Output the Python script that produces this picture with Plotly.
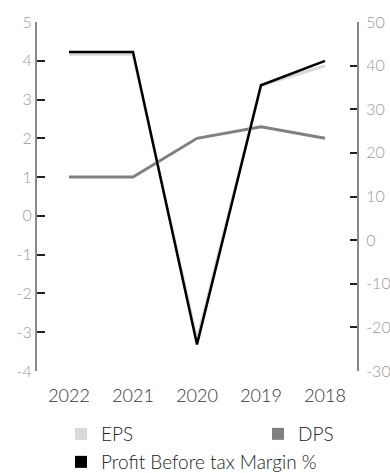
import plotly.graph_objects as go

years = ["2022", "2021", "2020", "2019", "2018"]
eps = [4.17, 4.17, -3.2, 3.37, 3.87]
dps = [1.0, 1.0, 2.0, 2.3, 2.0]
pbt_margin = [43.1, 43.1, -23.9, 35.5, 41.1]

left_ticks = [5, 4, 3, 2, 1, 0, -1, -2, -3, -4]
right_ticks = [50, 40, 30, 20, 10, 0, -10, -20, -30]

c_eps = "#d9d9d9"
c_dps = "#808080"
c_pbt = "#000000"

W, H = 390, 473

fig = go.Figure()

# Data lines (drawn without legend entries)
fig.add_trace(go.Scatter(x=years, y=dps, mode="lines", line=dict(color=c_dps, width=3),
                         showlegend=False, yaxis="y"))
fig.add_trace(go.Scatter(x=years, y=eps, mode="lines", line=dict(color=c_eps, width=3),
                         showlegend=False, yaxis="y"))
fig.add_trace(go.Scatter(x=years, y=pbt_margin, mode="lines", line=dict(color=c_pbt, width=2.5),
                         showlegend=False, yaxis="y2"))

# Square legend swatches, one legend box per entry
legend_entries = [("EPS", c_eps, "legend"), ("DPS", c_dps, "legend2"),
                  ("Profit Before tax Margin %", c_pbt, "legend3")]
for name, col, lg in legend_entries:
    fig.add_trace(go.Scatter(x=[None], y=[None], mode="markers", name=name, legend=lg,
                             marker=dict(symbol="square", size=12, color=col)))

tick_font = dict(family="Lato", size=16, color="#9a9a9a", weight=300)
legend_font = dict(family="Lato", size=19, color="#222", weight=300)


def legend_box(px, py):
    return dict(orientation="h", xref="container", yref="container",
                x=px / W, xanchor="left", y=1 - py / H, yanchor="top",
                font=legend_font, itemwidth=30, bgcolor="rgba(0,0,0,0)")


fig.update_layout(
    width=W, height=H,
    margin=dict(l=37, r=33, t=22, b=102),
    paper_bgcolor="white", plot_bgcolor="white",
    font=dict(family="Lato", color="#555"),
    xaxis=dict(type="category", range=[-0.5, 4.5], showgrid=False, showline=False,
               zeroline=False, ticks="", automargin=False, ticklabelstandoff=12,
               tickfont=dict(family="Lato", size=18, color="#333", weight=300)),
    yaxis=dict(range=[-4, 5], tickvals=left_ticks,
               ticktext=[str(v) for v in left_ticks],
               showgrid=False, zeroline=False, automargin=False,
               showline=True, linecolor="#888", linewidth=2,
               ticks="inside", ticklen=8, tickcolor="#222", tickwidth=1.5,
               tickfont=tick_font),
    yaxis2=dict(range=[-30, 50], tickvals=right_ticks,
                ticktext=[str(v) for v in right_ticks],
                overlaying="y", side="right", automargin=False, ticklabelstandoff=4,
                showgrid=False, zeroline=False,
                showline=True, linecolor="#888", linewidth=2,
                ticks="inside", ticklen=7, tickcolor="#222", tickwidth=1.5,
                tickfont=tick_font),
    legend=legend_box(61, 415),
    legend2=legend_box(258, 415),
    legend3=legend_box(61, 443),
)

fig.write_html("out.html")
